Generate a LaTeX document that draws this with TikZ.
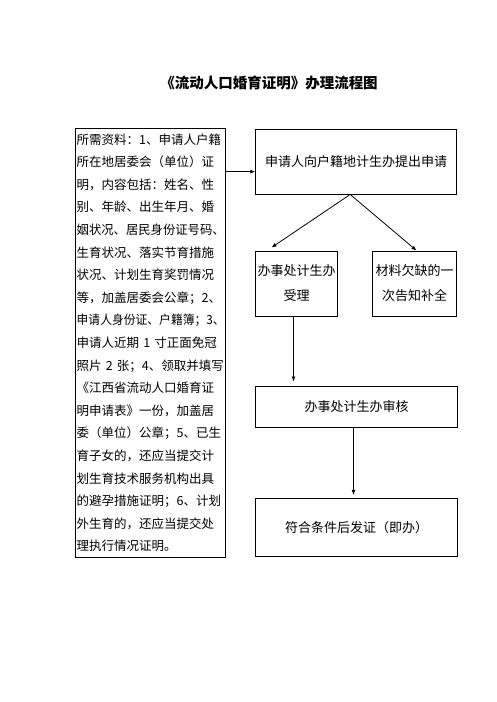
\documentclass[tikz,border=0pt]{standalone}
\usepackage{fontspec}
\usepackage{graphicx}
\newfontfamily\cjk{Noto Sans CJK SC}
\usepackage{tikz}
\usetikzlibrary{positioning}
\usetikzlibrary{arrows.meta,calc}
\XeTeXlinebreaklocale "zh"
\XeTeXlinebreakskip=0pt plus 1pt
\newsavebox{\linebox}
\newcommand{\jline}[1]{\sbox{\linebox}{#1}\ifdim\wd\linebox>148pt\resizebox{148pt}{\height}{#1}\else\makebox[148pt][s]{#1}\fi}
\tikzstyle{stepbox}=[draw=black,line width=0.9pt,inner sep=0pt,align=center,font=\cjk\fontsize{13}{25}\selectfont]
\tikzstyle{docbox}=[draw=black,line width=0.9pt,inner xsep=1pt,inner ysep=0pt,align=left,text width=148pt,font=\cjk\fontsize{12.5}{22.6}\selectfont]
\tikzstyle{flowarrow}=[-{Latex[length=5pt,width=4pt]},line width=0.8pt]
\begin{document}
\begin{tikzpicture}[x=1pt,y=-1pt]
\fill[white] (0,0) rectangle (496,702);
\useasboundingbox (0,0) rectangle (496,702);

%title
\node[font=\cjk\bfseries\fontsize{14.5}{16}\selectfont] (title) at (269,83) {《流动人口婚育证明》办理流程图};

%materials
\node[docbox,minimum width=150pt,minimum height=429.7pt] (docs) at (150.7,342.85) {%
\jline{所需资料：1、申请人户籍}\\
\jline{所在地居委会（单位）证}\\
\jline{明，内容包括：姓名、性}\\
\jline{别、年龄、出生年月、婚}\\
\jline{姻状况、居民身份证号码、}\\
\jline{生育状况、落实节育措施}\\
\jline{状况、计划生育奖罚情况}\\
\jline{等，加盖居委会公章；2、}\\
\jline{申请人身份证、户籍簿；3、}\\
\jline{申请人近期 1 寸正面免冠}\\
\jline{照片 2 张；4、领取并填写}\\
\jline{《江西省流动人口婚育证}\\
\jline{明申请表》一份，加盖居}\\
\jline{委（单位）公章；5、已生}\\
\jline{育子女的，还应当提交计}\\
\jline{划生育技术服务机构出具}\\
\jline{的避孕措施证明；6、计划}\\
\jline{外生育的，还应当提交处}\\
理执行情况证明。};

%steps
\foreach \pos/\name/\w/\h/\label in {{(356.2,161.65)/apply/201/64.7/申请人向户籍地计生办提出申请},
    {(296.5,283.5)/accept/81.6/65/办事处计生办\\受理}, {(414.5,283.5)/supply/84.4/65/材料欠缺的一\\次告知补全},
    {(356.5,406.65)/review/201.6/41.3/办事处计生办审核}, {(356.5,527.5)/issue/201.6/58.4/符合条件后发证（即办）}}
    \node[stepbox,minimum width=\w pt,minimum height=\h pt] (\name) at \pos {\label};

\draw[flowarrow] ([yshift=-10pt]apply.west -| docs.east) -- ([yshift=-10pt]apply.west);
\draw[flowarrow] ([xshift=-6pt]apply.south) -- ([xshift=-25pt,yshift=3pt]accept.north);
\draw[flowarrow] ([xshift=-6pt]apply.south) -- ([xshift=2pt]supply.north);
\draw[flowarrow,shorten >=4pt] ([xshift=-3pt]accept.south) -- ([xshift=-3pt]accept.south |- review.north);
\draw[flowarrow,shorten >=3pt] ([xshift=-3pt]review.south) -- ([xshift=-3pt]review.south |- issue.north);

\end{tikzpicture}
\end{document}
